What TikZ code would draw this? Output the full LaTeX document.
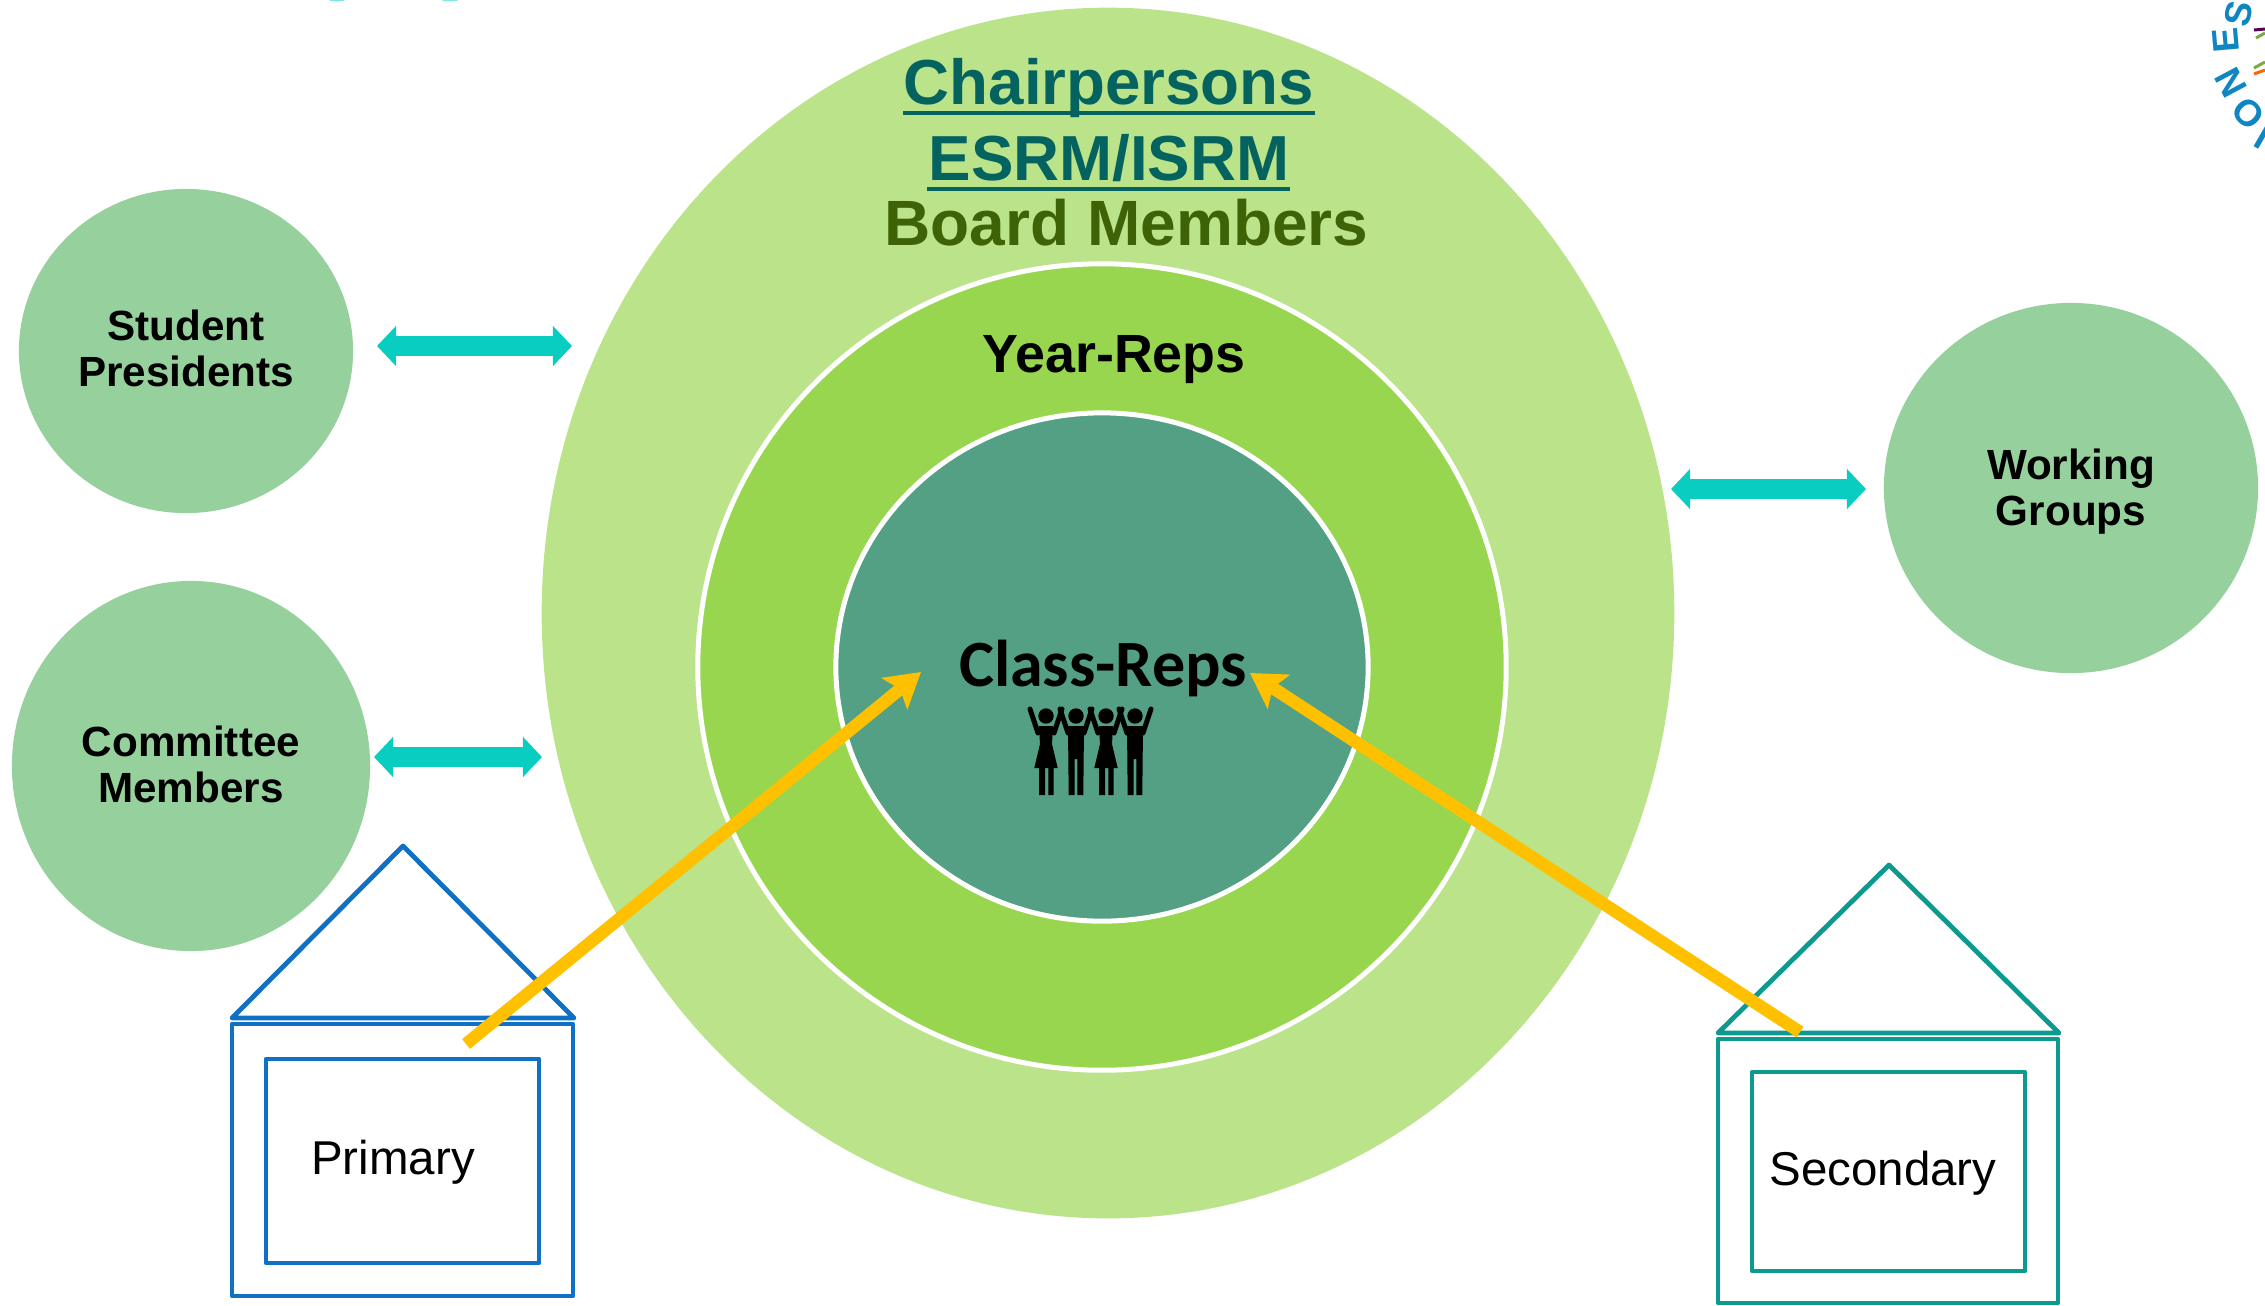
\documentclass[tikz,border=0pt]{standalone}
\usepackage{fontspec}
\setmainfont{Liberation Sans}
\newfontfamily\calibrifont{Carlito}
\usetikzlibrary{shapes.geometric,arrows.meta}
\definecolor{ringout}{HTML}{BAE38A}
\definecolor{ringmid}{HTML}{98D650}
\definecolor{ringin}{HTML}{54A085}
\definecolor{sidegreen}{HTML}{95D09D}
\definecolor{linkteal}{HTML}{0ACDC1}
\definecolor{repyellow}{HTML}{FFC000}
\definecolor{primaryblue}{HTML}{1070C4}
\definecolor{secondteal}{HTML}{0C9A90}
\definecolor{chairteal}{HTML}{04635F}
\definecolor{boardgreen}{HTML}{3E6307}
\definecolor{logoblue}{HTML}{0E86C4}
\newcommand{\pxfont}[1]{\fontsize{#1}{#1}\selectfont}
\tikzset{
  oval/.style={ellipse,inner sep=0pt},
  sidetext/.style={inner sep=0pt,align=center,font=\bfseries\fontsize{12}{13.1}\selectfont},
  boardtext/.style={anchor=base,inner sep=0pt,font=\bfseries\pxfont{#1}},
  boardtext/.default=17.4,
  logoletter/.style={inner sep=0pt,text=logoblue,font=\bfseries\pxfont{10.5}},
  duallink/.style={linkteal,line width=0.2cm,{Triangle[length=0.19cm,width=0.39cm]}-{Triangle[length=0.19cm,width=0.39cm]}},
  reparrow/.style={repyellow,line width=0.125cm,-{Stealth[length=0.34cm,width=0.4cm,inset=0.07cm]}},
  house/.style={line width=0.048cm,line join=round}
}
\begin{document}
\begin{tikzpicture}[x=0.01cm,y=-0.01cm]
\useasboundingbox (0,0) rectangle (2265,1305);
% rings
\node[oval,fill=ringout,minimum width=11.32cm,minimum height=12.1cm] (board) at (1108,613) {};
\node[oval,fill=ringmid,draw=white,line width=0.05cm,minimum width=8.08cm,minimum height=8.06cm] (year) at (1102,667) {};
\node[oval,fill=ringin,draw=white,line width=0.05cm,minimum width=5.32cm,minimum height=5.08cm] (class) at (1102,667) {};
\node[boardtext=18.1,text=chairteal] (chair) at (1109,104) {Chairpersons};
\node[boardtext=18.1,text=chairteal] (esrm) at (1109,180) {ESRM/ISRM};
\fill[chairteal] (903,111) rectangle (1315,115);
\fill[chairteal] (927,187) rectangle (1290,191);
\node[boardtext=18.2,text=boardgreen] (members) at (1126.5,245) {Board Members};
\node[boardtext=15.3] (yearrep) at (1114,372) {Year-Reps};
\node[anchor=base,inner sep=0pt,font=\calibrifont\bfseries\pxfont{18.8}] (classrep) at (1103,686) {Class-Reps};
% people
\foreach \fx in {1046,1106} {
\scope[shift={(\fx,716)}]
\fill (0,0) circle (7.7);
\draw[line width=0.05cm,line cap=round] (-16,-7) -- (-8,17) (16,-7) -- (8,17);
\fill (-7,10) -- (7,10) -- (6,28) -- (11.7,52) -- (7.5,52) -- (7.5,79) -- (2.3,79) -- (2.3,52) -- (-1,52) -- (-1,79) -- (-7,79) -- (-7,52) -- (-11.7,52) -- (-6,28) -- cycle;
\endscope
}
\foreach \fx in {1076,1135} {
\scope[shift={(\fx,716)}]
\fill (0,0) circle (7.7);
\draw[line width=0.05cm,line cap=round] (-16,-7) -- (-8,17) (16,-7) -- (8,17);
\fill (-8,10) -- (8,10) -- (7.3,79) -- (1.3,79) -- (1.3,43) -- (-1.3,43) -- (-1.3,79) -- (-7.3,79) -- cycle;
\endscope
}
% side groups
\node[oval,fill=sidegreen,minimum width=3.34cm,minimum height=3.24cm] (student) at (186,351) {};
\node[oval,fill=sidegreen,minimum width=3.58cm,minimum height=3.7cm] (committee) at (191,766) {};
\node[oval,fill=sidegreen,minimum width=3.74cm,minimum height=3.7cm] (working) at (2071,488) {};
\node[sidetext] (studenttext) at (186,348) {Student\\Presidents};
\node[sidetext] (committeetext) at (191,764) {Committee\\Members};
\node[sidetext] (workingtext) at (2071,492) {Working\\Groups};
\coordinate (studentlink) at (377,346);
\coordinate (studentring) at (572,346);
\coordinate (committeelink) at (374,757);
\coordinate (committeering) at (542,757);
\coordinate (workingring) at (1671,489);
\coordinate (workinglink) at (1866,489);
\draw[duallink] (studentlink) -- (studentring);
\draw[duallink] (committeelink) -- (committeering);
\draw[duallink] (workingring) -- (workinglink);
% primary school
\draw[house,primaryblue] (403,846) -- (574,1018) -- (232,1018) -- cycle;
\draw[house,primaryblue] (232,1024) rectangle (573,1296);
\draw[house,primaryblue] (266,1059) rectangle (539,1263);
\node[anchor=base,inner sep=0pt,font=\pxfont{13.5}] (primary) at (393,1174) {Primary};
% secondary school
\draw[house,secondteal] (1889,865) -- (2059,1033) -- (1718,1033) -- cycle;
\draw[house,secondteal] (1718,1039) rectangle (2058,1303);
\draw[house,secondteal] (1752,1072) rectangle (2025,1271);
\node[anchor=base,inner sep=0pt,font=\pxfont{13.5}] (secondary) at (1883,1185) {Secondary};
% reps
\coordinate (primaryout) at (466,1044);
\coordinate (classleft) at (921,672);
\coordinate (secondaryout) at (1800,1032);
\coordinate (classright) at (1250,673);
\draw[reparrow] (primaryout) -- (classleft);
\draw[reparrow] (secondaryout) -- (classright);
% logo corner
\node[logoletter,rotate=150] (logoi) at (2263,137) {I};
\node[logoletter,rotate=135] (logoo) at (2248,113) {O};
\node[logoletter,rotate=118] (logon) at (2231,83) {N};
\node[logoletter,rotate=95] (logoe) at (2226,40) {E};
\node[logoletter,rotate=78] (logos) at (2239,14) {S};
\draw[line width=0.03cm,color=violet!70!black] (2254,30) -- (2265,29);
\draw[line width=0.03cm,color=ringmid!80!black] (2256,38) -- (2265,33);
\draw[line width=0.03cm,color=ringmid!80!black] (2254,68) -- (2265,62);
\draw[line width=0.03cm,color=orange!80!red] (2254,74) -- (2265,70);
\fill[linkteal!50] (337,0) ellipse (8 and 1.5);
\fill[linkteal!50] (450,0) ellipse (8 and 1.5);
\end{tikzpicture}
\end{document}
